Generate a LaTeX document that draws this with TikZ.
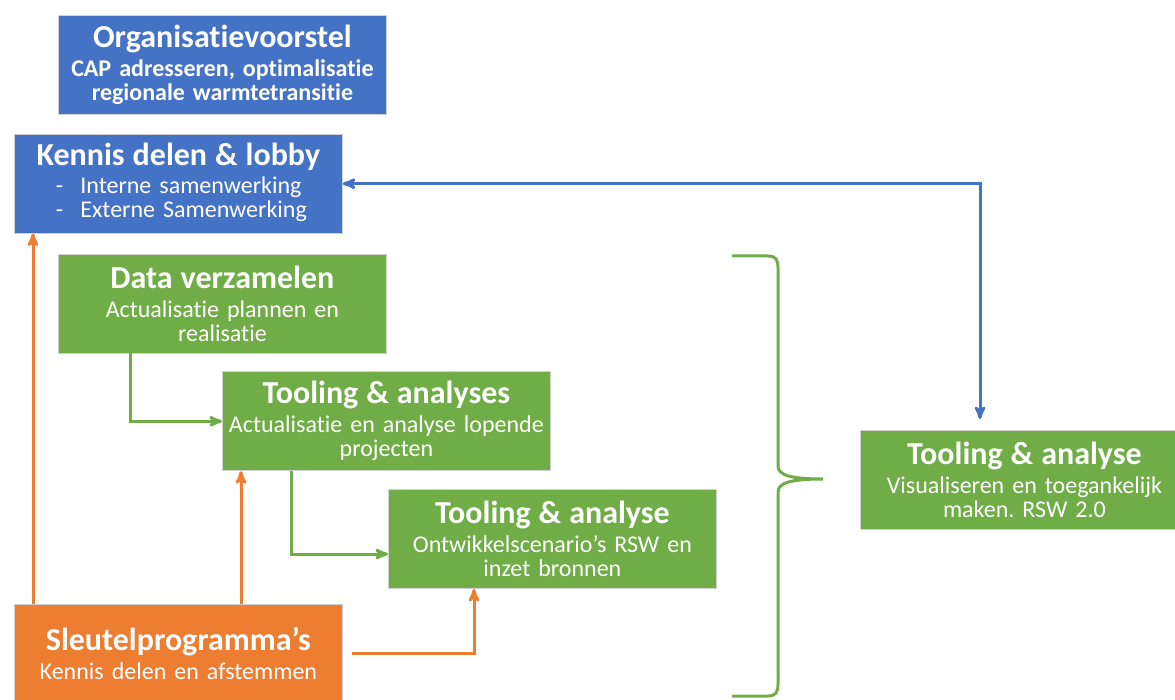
\documentclass[tikz,border=0pt]{standalone}
\usepackage{fontspec}
\setmainfont{Carlito}[Ligatures={NoCommon}]
\usepackage{tikz}
\usetikzlibrary{arrows}
\usetikzlibrary{positioning}

\definecolor{pblue}{HTML}{4472C4}
\definecolor{pgreen}{HTML}{70AD47}
\definecolor{porange}{HTML}{ED7D31}

\newcommand{\kop}[1]{{\fontsize{32}{34}\selectfont\bfseries #1}\\[5pt]}
\frenchspacing

\begin{document}
\begin{tikzpicture}[x=1pt,y=-1pt,>=stealth',line width=3pt,
	blok/.style={rectangle,draw=black!18,line width=0.8pt,minimum width=328pt,minimum height=99pt,
		text width=328pt,inner sep=0pt,align=center,text=white,font=\fontsize{24}{24}\selectfont}]
	\useasboundingbox (0,0) rectangle (1175,700);

	\node[blok,fill=pblue,anchor=north west] (org) at (58,15)
		{\kop{Organisatievoorstel}\textbf{CAP adresseren, optimalisatie}\\\textbf{regionale warmtetransitie}};
	\node[blok,fill=pblue] (kennis) [below right=19pt and -44pt of org.south west]
		{\kop{Kennis delen \& lobby}\hspace*{6pt}\begin{tabular}{@{}l@{\hspace{17pt}}l@{}}-&Interne samenwerking\\-&Externe Samenwerking\end{tabular}};

	\node[blok,fill=pgreen] (data) [below right=20pt and 44pt of kennis.south west]
		{\kop{Data verzamelen}Actualisatie plannen en\\realisatie};
	\node[blok,fill=pgreen] (tool1) [below right=18pt and 164pt of data.south west]
		{\kop{Tooling \& analyses}Actualisatie en analyse lopende\\projecten};
	\node[blok,fill=pgreen] (tool2) [below right=18pt and 166pt of tool1.south west]
		{\kop{Tooling \& analyse}Ontwikkelscenario’s RSW en\\inzet bronnen};

	\node[blok,fill=porange] (sleutel) [below right=15pt and -374pt of tool2.south west]
		{\kop{Sleutelprogramma’s}Kennis delen en afstemmen};

	\node[blok,fill=pgreen,anchor=north west] (rechts) at (860,430)
		{\kop{Tooling \& analyse}Visualiseren en toegankelijk\\maken. RSW 2.0};

	% verbindingen
	\draw[<->,pblue,shorten >=11pt] (kennis.east) -| ([xshift=120pt]rechts.north west);

	\draw[->,porange] ([xshift=19pt]sleutel.north west) -- ([xshift=19pt]kennis.south west);
	\draw[->,porange] ([xshift=227pt]sleutel.north west) -- ([xshift=19pt]tool1.south west);
	\draw[->,porange] ([xshift=9pt]sleutel.east) -| ([xshift=86pt]tool2.south west);

	\draw[->,pgreen] ([xshift=72pt]data.south west) |- (tool1.west);
	\draw[->,pgreen] ([xshift=69pt]tool1.south west) |- ([yshift=-15pt]tool2.west);

	% accolade
	\draw[pgreen] (732,256) -- (768,256) .. controls (776,256) and (778,260) .. (778,268)
		-- (778,466) .. controls (778,475) and (790,479) .. (823,479)
		.. controls (790,479) and (778,483) .. (778,492)
		-- (778,684) .. controls (778,692) and (776,696) .. (768,696) -- (732,696);
\end{tikzpicture}
\end{document}
